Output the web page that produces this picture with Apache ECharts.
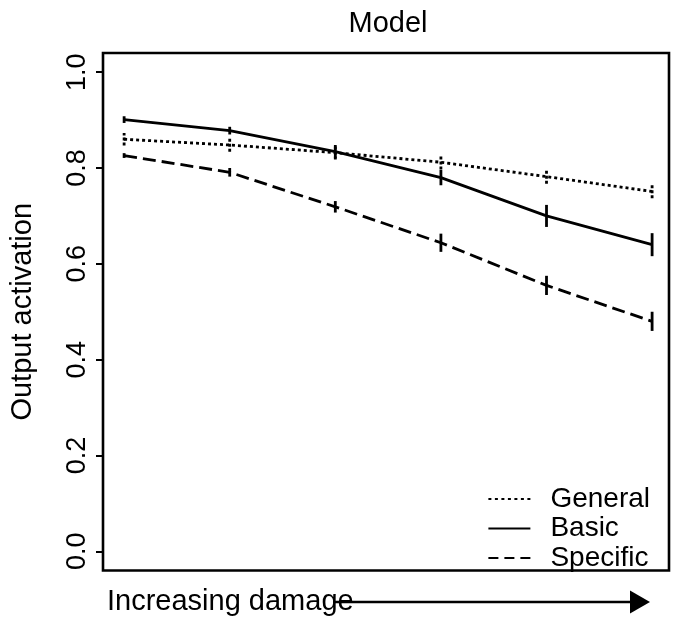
<!DOCTYPE html>
<html>
<head>
<meta charset="utf-8">
<script src="https://cdn.jsdelivr.net/npm/echarts@6/dist/echarts.min.js"></script>
<style>
html,body{margin:0;padding:0;background:#fff;}
#chart{width:673px;height:622px;}
</style>
</head>
<body>
<div id="chart"></div>
<script>
// Damage levels (x positions, unlabeled on the axis)
const damageLevels = [1, 2, 3, 4, 5, 6];
// Series names
const seriesNames = ['General', 'Basic', 'Specific'];
// Mean output activation
const generalMean  = [0.860, 0.848, 0.832, 0.812, 0.782, 0.751];
const basicMean    = [0.901, 0.878, 0.834, 0.780, 0.700, 0.640];
const specificMean = [0.826, 0.791, 0.719, 0.644, 0.555, 0.480];
// Error bar half-lengths
const generalErr  = [0.013, 0.014, 0.014, 0.015, 0.015, 0.014];
const basicErr    = [0.007, 0.008, 0.014, 0.016, 0.023, 0.024];
const specificErr = [0.005, 0.009, 0.012, 0.019, 0.020, 0.020];
// Y tick labels
const yTicks = [0, 0.2, 0.4, 0.6, 0.8, 1.0];

const FONT = 'Liberation Sans, Arial, Helvetica, sans-serif';
const LW = 2.8;
const styles = {
  General:  { type: [3, 3] },
  Basic:    { type: 'solid' },
  Specific: { type: [13, 6] }
};
// legend sample icons (42 x 2 boxes)
const legendIcons = {
  General:  'path://M0,0h3v2h-3z M6.5,0h3v2h-3z M13,0h3v2h-3z M19.5,0h3v2h-3z M26,0h3v2h-3z M32.5,0h3v2h-3z M39,0h3v2h-3z',
  Basic:    'path://M0,0h42v2h-42z',
  Specific: 'path://M0,0h10v2h-10z M16,0h10v2h-10z M32,0h10v2h-10z'
};

function lineSeries(name, mean) {
  return {
    name: name,
    type: 'line',
    data: damageLevels.map((x, i) => [x, mean[i]]),
    symbol: 'none',
    lineStyle: { color: '#000', width: LW, type: styles[name].type },
    itemStyle: { color: '#000' },
    z: 3
  };
}
function errSeries(name, mean, err) {
  const dash = name === 'General' ? [3, 2] : null;
  return {
    name: name + ' err',
    type: 'custom',
    data: damageLevels.map((x, i) => [x, mean[i], err[i]]),
    renderItem: function (params, api) {
      const x = api.value(0), m = api.value(1), e = api.value(2);
      const p1 = api.coord([x, m - e]);
      const p2 = api.coord([x, m + e]);
      return {
        type: 'line',
        shape: { x1: p1[0], y1: p1[1], x2: p2[0], y2: p2[1] },
        style: { stroke: '#000', lineWidth: LW, lineDash: dash }
      };
    },
    z: 4
  };
}

const chart = echarts.init(document.getElementById('chart'), null, { renderer: 'canvas' });
chart.setOption({
  animation: false,
  backgroundColor: '#fff',
  textStyle: { fontFamily: FONT },
  title: {
    text: 'Model',
    left: 383,
    top: 4,
    textAlign: 'center',
    textStyle: { fontFamily: FONT, fontSize: 29, fontWeight: 'normal', color: '#000' }
  },
  grid: {
    left: 98, right: 4, top: 53, bottom: 51.5,
    show: true, borderColor: '#000', borderWidth: 2.6, backgroundColor: 'transparent'
  },
  legend: {
    data: seriesNames.map(n => ({ name: n, icon: legendIcons[n] })),
    orient: 'vertical',
    right: 18,
    top: 480,
    itemWidth: 42,
    itemHeight: 2,
    itemGap: 1.5,
    itemStyle: { color: '#000', borderWidth: 0 },
    textStyle: { fontFamily: FONT, fontSize: 28, color: '#000', lineHeight: 28, padding: [0, 0, 0, 15] },
    selectedMode: false
  },
  xAxis: {
    type: 'value',
    min: 0.8,
    max: 6.16,
    axisLine: { show: false },
    axisTick: { show: false },
    axisLabel: { show: false },
    splitLine: { show: false }
  },
  yAxis: {
    type: 'value',
    min: -0.04,
    max: 1.04,
    name: 'Output activation',
    nameLocation: 'middle',
    nameGap: 66,
    nameTextStyle: { fontFamily: FONT, fontSize: 29, color: '#000' },
    axisLine: { show: false },
    axisTick: { show: true, inside: false, length: 7, lineStyle: { color: '#000', width: 2 }, customValues: yTicks },
    axisLabel: {
      show: true, rotate: 90, margin: 12,
      fontFamily: FONT, fontSize: 27, color: '#000',
      customValues: yTicks,
      formatter: v => v.toFixed(1)
    },
    splitLine: { show: false }
  },
  graphic: [
    {
      type: 'text',
      left: 107, top: 587,
      style: { text: 'Increasing damage', fontFamily: FONT, fontSize: 29, fill: '#000' },
      z: 10
    },
    {
      type: 'line',
      shape: { x1: 333, y1: 602, x2: 634, y2: 602 },
      style: { stroke: '#000', lineWidth: 2.6 },
      z: 10
    },
    {
      type: 'polygon',
      shape: { points: [[650, 602], [630, 590.5], [630, 613.5]] },
      style: { fill: '#000' },
      z: 10
    }
  ],
  series: [
    lineSeries('General', generalMean),
    lineSeries('Basic', basicMean),
    lineSeries('Specific', specificMean),
    errSeries('General', generalMean, generalErr),
    errSeries('Basic', basicMean, basicErr),
    errSeries('Specific', specificMean, specificErr)
  ]
});
</script>
</body>
</html>
